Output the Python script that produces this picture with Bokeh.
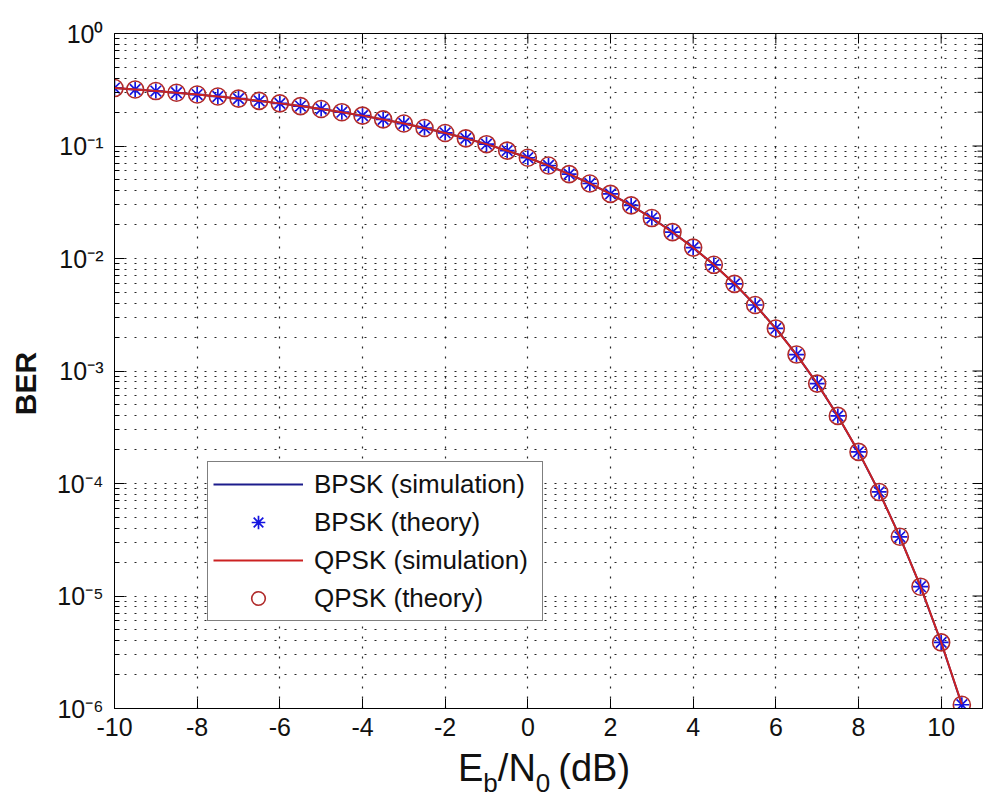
import math
from bokeh.plotting import figure
from bokeh.layouts import column
from bokeh.models import (Range1d, FixedTicker, Legend, LegendItem, Div)
from bokeh.embed import file_html
from bokeh.resources import INLINE

# ---------------- data ----------------
ebn0_db = [-10.0, -9.5, -9.0, -8.5, -8.0, -7.5, -7.0, -6.5, -6.0, -5.5,
           -5.0, -4.5, -4.0, -3.5, -3.0, -2.5, -2.0, -1.5, -1.0, -0.5,
           0.0, 0.5, 1.0, 1.5, 2.0, 2.5, 3.0, 3.5, 4.0, 4.5,
           5.0, 5.5, 6.0, 6.5, 7.0, 7.5, 8.0, 8.5, 9.0, 9.5,
           10.0, 10.5]

bpsk_theory = [3.274e-1, 3.178e-1, 3.079e-1, 2.975e-1, 2.867e-1, 2.755e-1,
               2.638e-1, 2.517e-1, 2.392e-1, 2.264e-1, 2.132e-1, 1.998e-1,
               1.861e-1, 1.723e-1, 1.584e-1, 1.445e-1, 1.306e-1, 1.170e-1,
               1.038e-1, 9.09e-2, 7.865e-2, 6.707e-2, 5.628e-2, 4.640e-2,
               3.751e-2, 2.966e-2, 2.288e-2, 1.717e-2, 1.250e-2, 8.79e-3,
               5.95e-3, 3.86e-3, 2.39e-3, 1.40e-3, 7.73e-4, 3.99e-4,
               1.91e-4, 8.41e-5, 3.36e-5, 1.21e-5, 3.87e-6, 1.08e-6]

bpsk_sim = [3.273e-1, 3.179e-1, 3.078e-1, 2.976e-1, 2.866e-1, 2.756e-1,
            2.637e-1, 2.518e-1, 2.391e-1, 2.265e-1, 2.131e-1, 1.999e-1,
            1.860e-1, 1.724e-1, 1.583e-1, 1.446e-1, 1.305e-1, 1.171e-1,
            1.037e-1, 9.10e-2, 7.86e-2, 6.71e-2, 5.63e-2, 4.64e-2,
            3.75e-2, 2.97e-2, 2.29e-2, 1.72e-2, 1.25e-2, 8.80e-3,
            5.95e-3, 3.86e-3, 2.39e-3, 1.40e-3, 7.72e-4, 3.99e-4,
            1.91e-4, 8.40e-5, 3.37e-5, 1.21e-5, 3.86e-6, 1.08e-6]

qpsk_theory = list(bpsk_theory)

qpsk_sim = [3.274e-1, 3.177e-1, 3.080e-1, 2.974e-1, 2.868e-1, 2.754e-1,
            2.639e-1, 2.516e-1, 2.393e-1, 2.263e-1, 2.133e-1, 1.997e-1,
            1.862e-1, 1.722e-1, 1.585e-1, 1.444e-1, 1.307e-1, 1.169e-1,
            1.039e-1, 9.08e-2, 7.87e-2, 6.70e-2, 5.62e-2, 4.65e-2,
            3.76e-2, 2.96e-2, 2.28e-2, 1.71e-2, 1.25e-2, 8.78e-3,
            5.96e-3, 3.87e-3, 2.38e-3, 1.40e-3, 7.74e-4, 3.98e-4,
            1.92e-4, 8.42e-5, 3.35e-5, 1.22e-5, 3.88e-6, 1.09e-6]

x_ticks = [-10, -8, -6, -4, -2, 0, 2, 4, 6, 8, 10]
x_tick_labels = ["-10", "-8", "-6", "-4", "-2", "0", "2", "4", "6", "8", "10"]
y_decade_exponents = [-6, -5, -4, -3, -2, -1, 0]
y_tick_labels = ["10\u207b\u2076", "10\u207b\u2075", "10\u207b\u2074",
                 "10\u207b\u00b3", "10\u207b\u00b2", "10\u207b\u00b9",
                 "10\u2070"]
legend_labels = ["BPSK (simulation)", "BPSK (theory)",
                 "QPSK (simulation)", "QPSK (theory)"]
y_label = "BER"

FONT = "Liberation Sans"

# ---------------- figure geometry ----------------
W = 983
FL, FR, FT, FB = 114, 982, 33, 708          # frame edges in pixels
PH = 748                                     # plot height; x-title below
X0, X1 = -10.0, 11.0
E0, E1 = -6, 0

p = figure(width=W, height=PH, x_range=Range1d(X0, X1),
           y_range=Range1d(10.0 ** E0, 10.0 ** E1), y_axis_type="log",
           output_backend="svg", toolbar_location=None,
           min_border_left=FL, min_border_right=W - FR,
           min_border_top=FT, min_border_bottom=PH - FB,
           background_fill_color="white", border_fill_color="white")
p.outline_line_color = "black"
p.outline_line_width = 1

y_major = [10.0 ** e for e in y_decade_exponents]
y_minor = [m * 10.0 ** e for e in y_decade_exponents[:-1] for m in range(2, 10)]
xt = FixedTicker(ticks=x_ticks)
yt = FixedTicker(ticks=y_major, minor_ticks=y_minor)

bottom = p.xaxis[0]
left = p.yaxis[0]

bottom.ticker = xt
bottom.minor_tick_line_color = None
left.ticker = yt
left.minor_tick_in = 5
left.minor_tick_out = 0
left.minor_tick_line_color = "black"
for ax in (bottom, left):
    ax.major_tick_in = 10
    ax.major_tick_out = 0
    ax.axis_line_color = "black"
    ax.major_tick_line_color = "black"
    ax.major_label_text_font = FONT
    ax.major_label_text_font_size = "25px"
    ax.major_label_text_color = "#111111"

bottom.major_label_overrides = dict(zip(x_ticks, x_tick_labels))
bottom.major_label_standoff = 9
left.major_label_overrides = dict(zip(y_major, y_tick_labels))
left.major_label_standoff = 11

left.axis_label = y_label + "\u00a0\u00a0\u00a0"
left.axis_label_text_font = FONT
left.axis_label_text_font_size = "30px"
left.axis_label_text_font_style = "bold"
left.axis_label_text_color = "#111111"
left.axis_label_standoff = 12

# mirrored ticks on the top and right frame edges
p.ray(x=x_ticks, y=[10.0 ** E1] * len(x_ticks), length=10,
      length_units="screen", angle=-math.pi / 2, line_color="black")
p.ray(x=[X1] * len(y_major), y=y_major, length=10, length_units="screen",
      angle=math.pi, line_color="black")
p.ray(x=[X1] * len(y_minor), y=y_minor, length=5, length_units="screen",
      angle=math.pi, line_color="black")

p.xgrid.ticker = xt
p.ygrid.ticker = yt
for g in (p.xgrid, p.ygrid):
    g.grid_line_color = "black"
    g.grid_line_dash = "2 8"
    g.grid_line_width = 1.2
    g.grid_line_alpha = 0.85
p.ygrid.minor_grid_line_color = "black"
p.ygrid.minor_grid_line_dash = "2 8"
p.ygrid.minor_grid_line_width = 1.2
p.ygrid.minor_grid_line_alpha = 0.85

# ---------------- data renderers ----------------
r1 = p.line(ebn0_db, bpsk_sim, line_color="#1c1c8c", line_width=2)
r2 = p.scatter(ebn0_db, bpsk_theory, marker="asterisk", size=15,
               line_color="#1414e0", line_width=1.7)
r3 = p.line(ebn0_db, qpsk_sim, line_color="#cc2222", line_width=2)
r4 = p.scatter(ebn0_db, qpsk_theory, marker="circle", size=17,
               line_color="#b02a2a", fill_color=None, line_width=1.6)

# ---------------- legend ----------------
legend = Legend(items=[LegendItem(label=lab, renderers=[r])
                       for lab, r in zip(legend_labels, [r1, r2, r3, r4])],
                location=(93, 87), margin=0, padding=5, spacing=4,
                glyph_width=90, glyph_height=34, label_standoff=11,
                label_width=223, label_height=34,
                label_text_font=FONT, label_text_font_size="26px",
                label_text_color="#111111",
                border_line_color="black", border_line_width=1,
                background_fill_color="white", background_fill_alpha=1.0)
p.add_layout(legend)

# ---------------- x-axis title with subscripts ----------------
sub = "font-size:26px;line-height:26px;vertical-align:-11px"
xtitle = Div(
    text=('<div style="font-family:\'Liberation Sans\';font-size:38px;'
          'line-height:40px;margin-left:458px;white-space:nowrap;'
          'color:#111111">'
          f'E<span style="{sub}">b</span>/N<span style="{sub}">0</span>'
          '<span style="margin-left:8px">(dB)</span></div>'),
    width=W, height=801 - PH, margin=0)

layout = column(p, xtitle, spacing=0)

open("out.html", "w").write(file_html(layout, INLINE))
